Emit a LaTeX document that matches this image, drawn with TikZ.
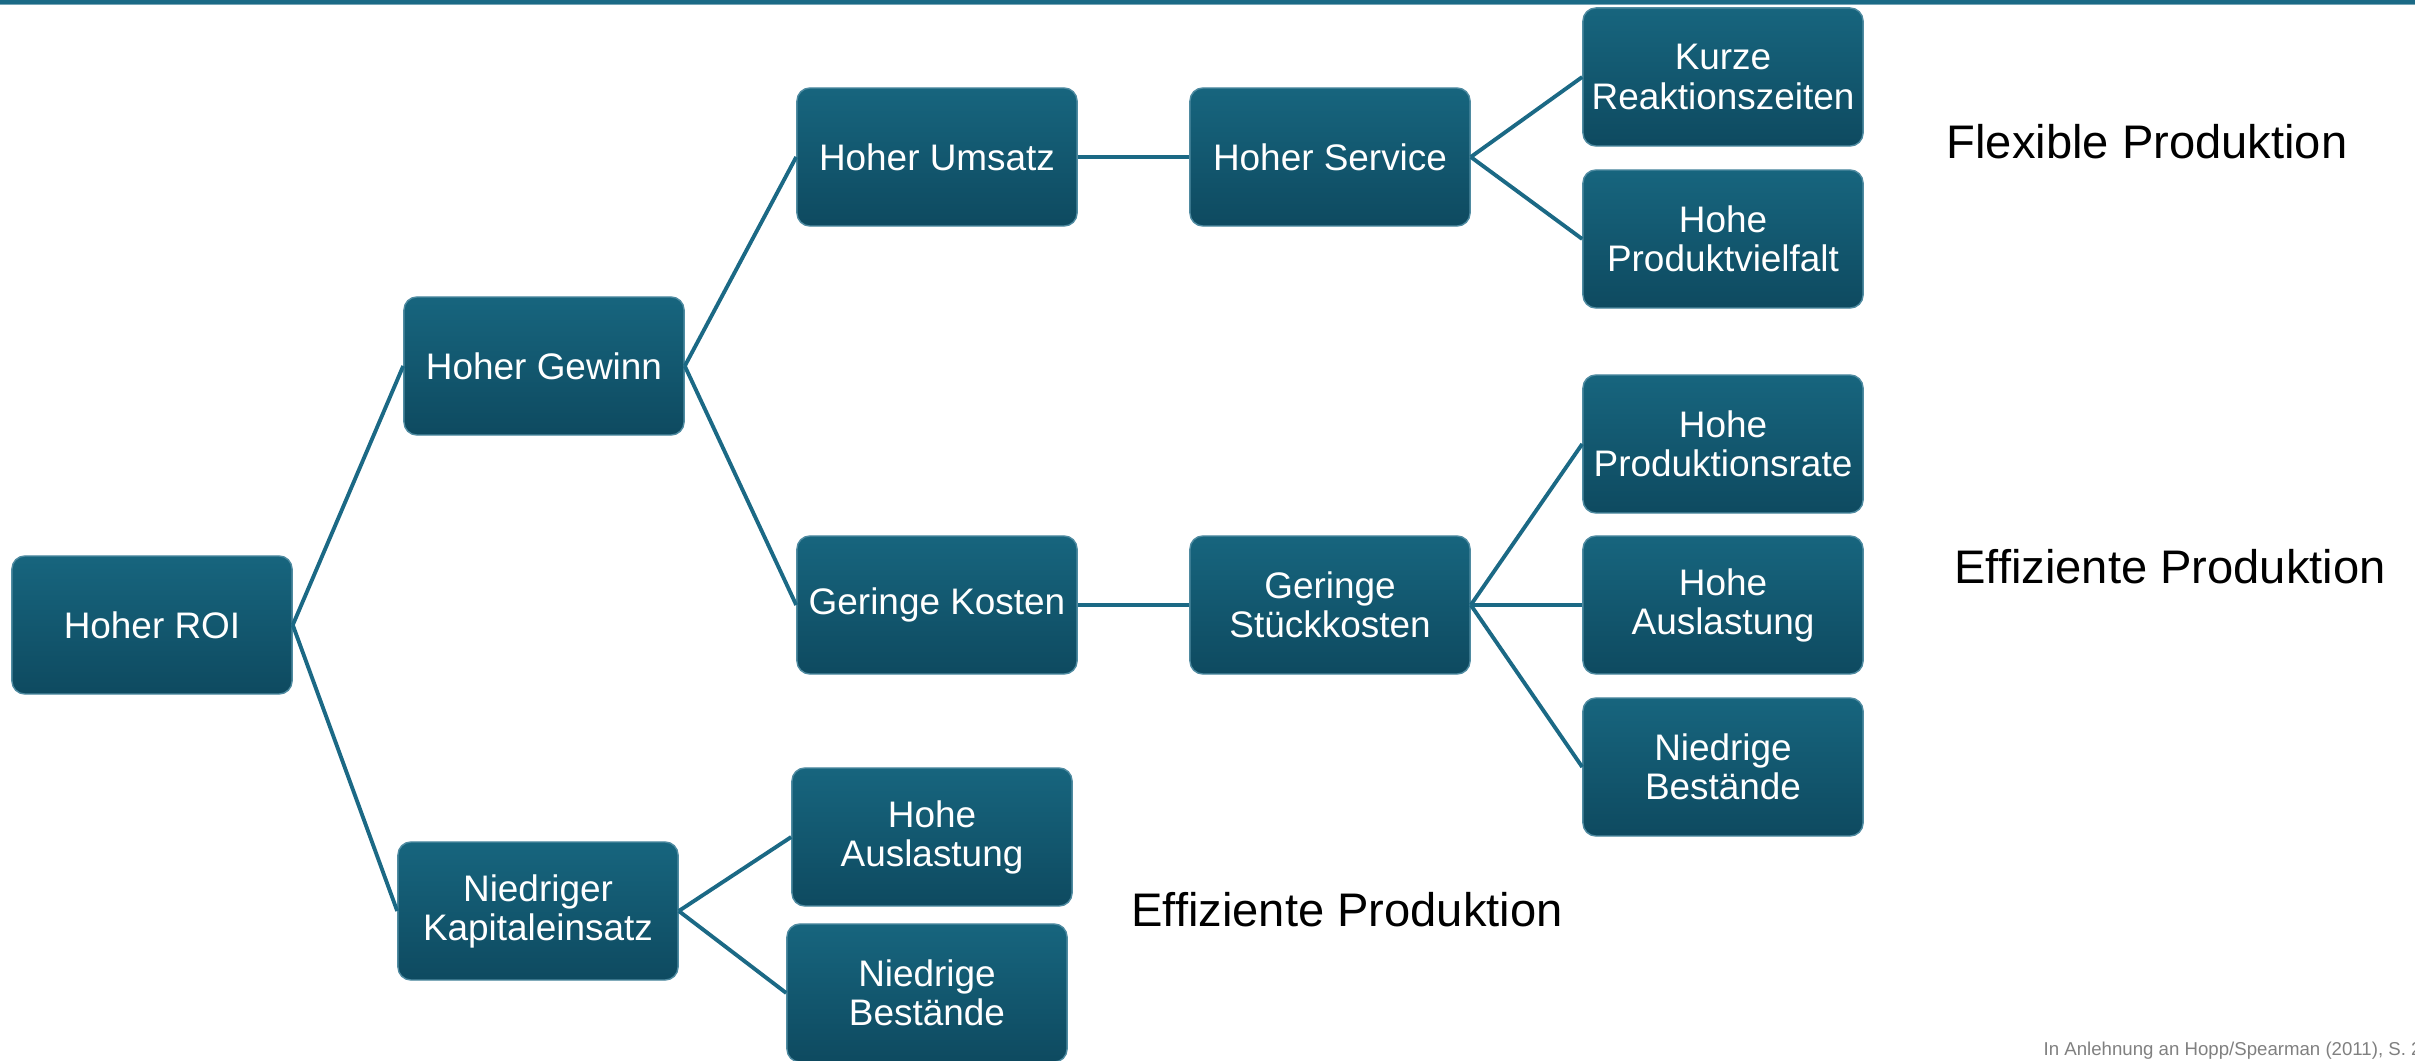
\documentclass[tikz,border=0pt]{standalone}
\usepackage{fontspec}
\setmainfont{Liberation Sans}
\usepackage{xcolor}
\usetikzlibrary{positioning, calc}

\definecolor{boxtop}{HTML}{17657E}
\definecolor{boxbottom}{HTML}{0E4A60}
\definecolor{boxedge}{HTML}{4F8BA1}
\definecolor{linkblue}{HTML}{1B6985}
\definecolor{barblue}{HTML}{1B6A86}

\begin{document}
\begin{tikzpicture}[x=0.01cm, y=-0.01cm,
    goalbox/.style={rectangle, rounded corners=0.13cm, draw=boxedge, line width=0.4pt,
        top color=boxtop, bottom color=boxbottom, text=white, align=center,
        minimum width=2.8cm, minimum height=1.38cm, inner sep=1pt,
        font=\fontsize{10.5}{11.1}\selectfont},
    link/.style={linkblue, line width=1.1pt},
    tag/.style={font=\fontsize{13.4}{15}\selectfont}]
    \useasboundingbox (0,0) rectangle (2415,1061);

    % Top bar
    \fill[barblue] (0,0) rectangle (2415,4);
    \fill[barblue!60] (0,4) rectangle (2415,5.5);

    % Root and first level
    \node[goalbox] (roi) at (152, 625) {Hoher ROI};
    \node[goalbox] (gewinn) at (544, 366) {Hoher Gewinn};
    \node[goalbox] (kapital) at (538, 911) {Niedriger\\Kapitaleinsatz};

    % Second level
    \node[goalbox] (umsatz) at (937, 157) {Hoher Umsatz};
    \node[goalbox] (kosten) at (937, 605) {Geringe Kosten};
    \node[goalbox] (auslA) at (932, 837) {Hohe\\Auslastung};
    \node[goalbox] (bestA) at (927, 993) {Niedrige\\Bestände};

    % Third level
    \node[goalbox] (service) at (1330, 157) {Hoher Service};
    \node[goalbox] (stueck) at (1330, 605) {Geringe\\Stückkosten};

    % Leaves
    \node[goalbox] (kurze) at (1723, 77) {Kurze\\Reaktionszeiten};
    \node[goalbox] (vielfalt) at (1723, 239) {Hohe\\Produktvielfalt};
    \node[goalbox] (rate) at (1723, 444) {Hohe\\Produktionsrate};
    \node[goalbox] (auslB) at (1723, 605) {Hohe\\Auslastung};
    \node[goalbox] (bestB) at (1723, 767) {Niedrige\\Bestände};

    % Connectors
    \draw[link] (roi.east) -- (gewinn.west);
    \draw[link] (roi.east) -- (kapital.west);
    \draw[link] (gewinn.east) -- (umsatz.west);
    \draw[link] (gewinn.east) -- (kosten.west);
    \draw[link] (kapital.east) -- (auslA.west);
    \draw[link] (kapital.east) -- (bestA.west);
    \draw[link] (umsatz.east) -- (service.west);
    \draw[link] (kosten.east) -- (stueck.west);
    \draw[link] (service.east) -- (kurze.west);
    \draw[link] (service.east) -- (vielfalt.west);
    \draw[link] (stueck.east) -- (rate.west);
    \draw[link] (stueck.east) -- (auslB.west);
    \draw[link] (stueck.east) -- (bestB.west);

    % Labels
    \node[tag] (flex) at (2147, 142) {Flexible Produktion};
    \node[tag] (effA) at (2170, 567) {Effiziente Produktion};
    \node[tag] (effB) at (1347, 910) {Effiziente Produktion};

    % Source (cut at the right edge, as in the slide)
    \node[anchor=west, inner sep=0pt, text=gray, font=\fontsize{5.3}{6}\selectfont] (quelle) at (2043, 1051) {In Anlehnung an Hopp/Spearman (2011), S. 2};
\end{tikzpicture}
\end{document}
